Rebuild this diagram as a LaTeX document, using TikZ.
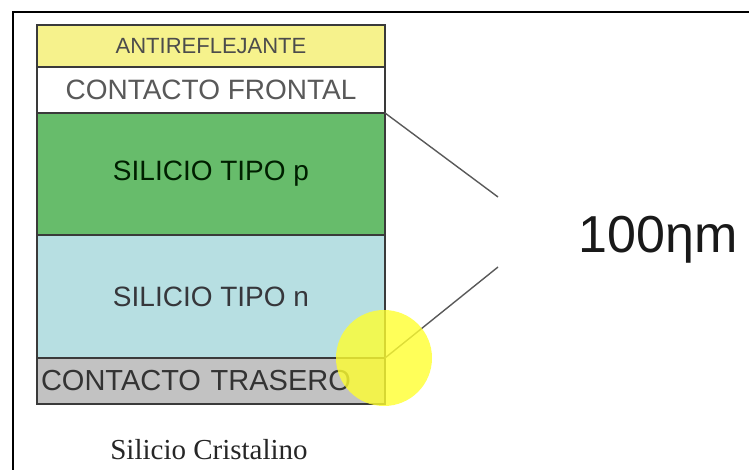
\documentclass[tikz,border=0pt]{standalone}
\usepackage{fontspec}
\setmainfont{Liberation Sans}
\newfontfamily\captionfont{Liberation Serif}
\usepackage{xcolor}
\usetikzlibrary{positioning}

\definecolor{antiY}{HTML}{F6F28C}
\definecolor{pGreen}{HTML}{67BC6B}
\definecolor{nBlue}{HTML}{B7DFE2}
\definecolor{backGray}{HTML}{C2C2C2}
\definecolor{edgeGray}{HTML}{3A3A3A}
\definecolor{markY}{HTML}{FFFF30}

\begin{document}
\begin{tikzpicture}[x=1pt, y=-1pt,
    layer/.style={draw=edgeGray, line width=1.6pt, minimum width=348pt, inner sep=0pt, outer sep=0pt, font=\fontsize{28}{30}\selectfont},
    gauge/.style={draw=black!65, line width=1.4pt}]
    \useasboundingbox (0,0) rectangle (749,470);
    \draw[line width=2pt] (13,470) -- (13,12) -- (749,12);

    % capas de la celda
    \node[layer, fill=antiY, minimum height=42pt, text=black!70, font=\fontsize{22}{24}\selectfont] (anti) at (211,46) {ANTIREFLEJANTE};
    \node[layer, fill=white, minimum height=46pt, below=0pt of anti, text=black!65] (front) {CONTACTO FRONTAL};
    \node[layer, fill=pGreen, minimum height=122pt, below=0pt of front, text=black!80!green!60!black] (ptype) {SILICIO TIPO p};
    \node[layer, fill=nBlue, minimum height=123pt, below=0pt of ptype, text=black!70!cyan!40!black] (ntype) {SILICIO TIPO n};
    \node[layer, fill=backGray, minimum height=46pt, below=0pt of ntype, text=black!80, text width=340pt, font=\fontsize{29}{31}\selectfont] (back) {CONTACTO TRASERO};

    \node[font=\captionfont\fontsize{29}{31}\selectfont, text=black!85] (caption) at (209,450) {Silicio Cristalino};

    % espesor
    \coordinate (top) at (498,197);
    \coordinate (bottom) at (498,267);
    \draw[gauge] (front.south east) -- (top);
    \draw[gauge] (ntype.south east) -- (bottom);
    \node[font=\fontsize{52}{54}\selectfont, text=black!90] (thick) at (658,240) {100ηm};

    \fill[markY, opacity=0.8] ([xshift=-1pt]ntype.south east) circle (48pt);
\end{tikzpicture}
\end{document}
